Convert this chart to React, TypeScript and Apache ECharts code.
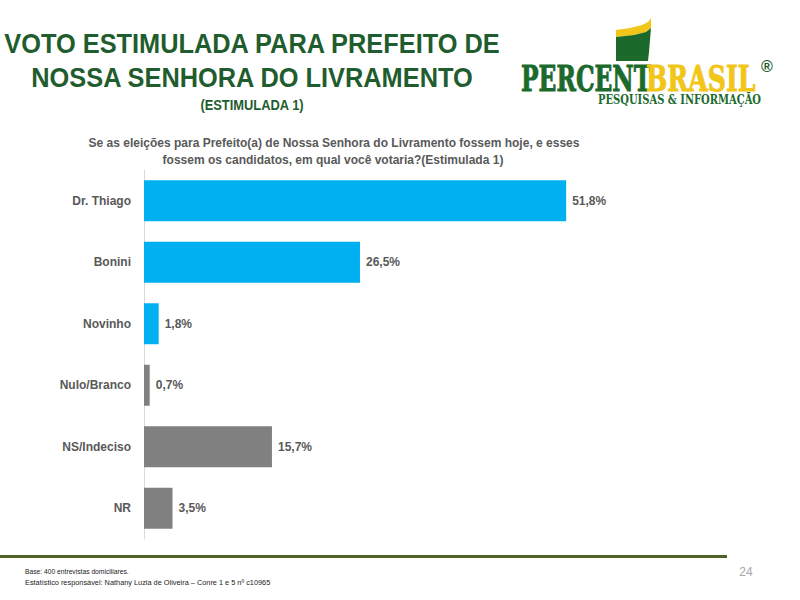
import React, { useEffect, useRef } from "react";
import * as echarts from "echarts";

const categories = ["Dr. Thiago", "Bonini", "Novinho", "Nulo/Branco", "NS/Indeciso", "NR"];
const values = [51.8, 26.5, 1.8, 0.7, 15.7, 3.5];
const kinds = ["candidato", "candidato", "candidato", "outro", "outro", "outro"];

const titleLines = ["VOTO ESTIMULADA PARA PREFEITO DE", "NOSSA SENHORA DO LIVRAMENTO"];
const subtitle = "(ESTIMULADA 1)";
const questionLines = [
  "Se as eleições para Prefeito(a) de Nossa Senhora do Livramento fossem hoje, e esses",
  "fossem os candidatos, em qual você votaria?(Estimulada 1)",
];
const footerLines = [
  "Base: 400 entrevistas domiciliares.",
  "Estatístico responsável: Nathany Luzia de Oliveira – Conre 1 e 5 nº c10965",
];
const pageNumber = "24";

const BLUE = "#00B0F0";
const GRAY = "#808080";
const TITLE_GREEN = "#1F5C2E";
const LOGO_GREEN = "#1B6A2C";
const LOGO_YELLOW = "#F2C618";

export default function App() {
  const ref = useRef<HTMLDivElement>(null);
  useEffect(() => {
    if (!ref.current) return;
    const chart = echarts.init(ref.current, null, { renderer: "svg" });
    const font = "Liberation Sans, Arial, sans-serif";
    chart.setOption({
      animation: false,
      backgroundColor: "#ffffff",
      grid: { left: 144, top: 170, width: 489, height: 369, containLabel: false },
      xAxis: {
        type: "value",
        min: 0,
        max: 60,
        show: false,
      },
      yAxis: {
        type: "category",
        data: categories,
        inverse: true,
        axisLine: { show: true, lineStyle: { color: "#D9D9D9", width: 1 } },
        axisTick: { show: false },
        axisLabel: {
          margin: 13,
          fontFamily: font,
          fontWeight: "bold",
          fontSize: 12,
          color: "#595959",
        },
      },
      series: [
        {
          type: "bar",
          barWidth: 41,
          data: values.map((v, i) => ({
            value: v,
            itemStyle: { color: kinds[i] === "candidato" ? BLUE : GRAY },
          })),
          label: {
            show: true,
            position: "right",
            distance: 6,
            fontFamily: font,
            fontWeight: "bold",
            fontSize: 12,
            color: "#595959",
            formatter: (p: any) => p.value.toFixed(1).replace(".", ",") + "%",
          },
        },
      ],
      graphic: [
        {
          type: "text",
          x: 252,
          y: 44,
          scaleX: 0.906,
          style: {
            text: titleLines[0],
            fill: TITLE_GREEN,
            font: `bold 28px ${font}`,
            textAlign: "center",
            textVerticalAlign: "middle",
          },
        },
        {
          type: "text",
          x: 252,
          y: 78,
          scaleX: 0.906,
          style: {
            text: titleLines[1],
            fill: TITLE_GREEN,
            font: `bold 28px ${font}`,
            textAlign: "center",
            textVerticalAlign: "middle",
          },
        },
        {
          type: "text",
          x: 252,
          y: 105,
          scaleX: 0.92,
          style: {
            text: subtitle,
            fill: TITLE_GREEN,
            font: `bold 14px ${font}`,
            textAlign: "center",
            textVerticalAlign: "middle",
          },
        },
        {
          type: "text",
          x: 334,
          y: 143,
          style: {
            text: questionLines[0],
            fill: "#595959",
            font: `bold 12px ${font}`,
            textAlign: "center",
            textVerticalAlign: "middle",
          },
        },
        {
          type: "text",
          x: 333,
          y: 160,
          style: {
            text: questionLines[1],
            fill: "#595959",
            font: `bold 12px ${font}`,
            textAlign: "center",
            textVerticalAlign: "middle",
          },
        },
        // logo icon
        {
          type: "polygon",
          shape: {
            points: [
              [616, 30], [630, 28], [642, 25], [648, 22], [651, 18],
              [651, 28], [646, 32], [634, 35], [616, 37],
            ],
          },
          style: { fill: LOGO_YELLOW },
        },
        {
          type: "polygon",
          shape: {
            points: [
              [616, 37], [634, 35], [646, 32], [651, 28],
              [650, 40], [649, 52], [648, 61], [616, 61],
            ],
          },
          style: { fill: LOGO_GREEN },
        },
        {
          type: "text",
          x: 521,
          y: 78,
          scaleX: 0.65,
          style: {
            text: "PERCENT",
            fill: LOGO_GREEN,
            font: "bold 36px DejaVu Serif, serif",
            textAlign: "left",
            textVerticalAlign: "middle",
            stroke: LOGO_GREEN,
            lineWidth: 1,
          },
        },
        {
          type: "text",
          x: 646,
          y: 78,
          scaleX: 0.7,
          style: {
            text: "BRASIL",
            fill: LOGO_YELLOW,
            font: "bold 36px DejaVu Serif, serif",
            textAlign: "left",
            textVerticalAlign: "middle",
            stroke: LOGO_YELLOW,
            lineWidth: 1,
          },
        },
        {
          type: "text",
          x: 767,
          y: 66,
          style: {
            text: "®",
            fill: TITLE_GREEN,
            font: "bold 16px Liberation Sans, sans-serif",
            textAlign: "center",
            textVerticalAlign: "middle",
          },
        },
        {
          type: "text",
          x: 598,
          y: 100,
          scaleX: 0.83,
          style: {
            text: "PESQUISAS & INFORMAÇÃO",
            fill: LOGO_GREEN,
            font: "bold 12px DejaVu Serif, serif",
            textAlign: "left",
            textVerticalAlign: "middle",
          },
        },
        // divider
        {
          type: "rect",
          shape: { x: 0, y: 555, width: 727, height: 3 },
          style: { fill: "#4F6228" },
        },
        {
          type: "text",
          x: 25,
          y: 571,
          scaleX: 0.84,
          style: {
            text: footerLines[0],
            fill: "#222222",
            font: `8px ${font}`,
            textAlign: "left",
            textVerticalAlign: "middle",
          },
        },
        {
          type: "text",
          x: 25,
          y: 582,
          scaleX: 0.92,
          style: {
            text: footerLines[1],
            fill: "#222222",
            font: `8px ${font}`,
            textAlign: "left",
            textVerticalAlign: "middle",
          },
        },
        {
          type: "text",
          x: 746,
          y: 572,
          style: {
            text: pageNumber,
            fill: "#A6A6A6",
            font: `12px ${font}`,
            textAlign: "center",
            textVerticalAlign: "middle",
          },
        },
      ],
    });
    return () => chart.dispose();
  }, []);
  return (
    <div
      ref={ref}
      style={{ position: "absolute", left: 0, top: 0, width: 800, height: 600 }}
    />
  );
}
